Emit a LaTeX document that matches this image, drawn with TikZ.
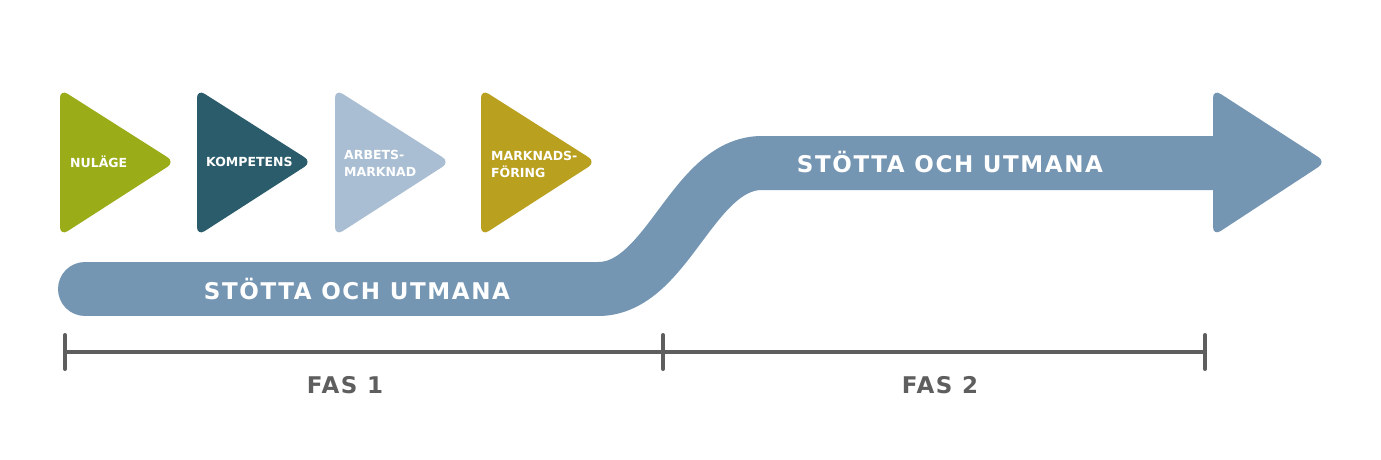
\documentclass[tikz,border=0pt]{standalone}
\usepackage{fontspec}
\setmainfont{DejaVu Sans}
\newfontfamily\bandfont[LetterSpace=7]{DejaVu Sans}
\newfontfamily\tifont{DejaVu Sans}
\begin{document}
\begin{tikzpicture}[x=1pt,y=-1pt,
  tri/.style={rounded corners=9pt},
  tritext/.style={anchor=west,text=white,font=\tifont\bfseries\fontsize{12.5}{17}\selectfont,align=left,inner sep=0pt},
  bandtext/.style={text=white,font=\bandfont\bfseries\fontsize{23}{26}\selectfont,inner sep=0pt},
  fastext/.style={text=axisgray,font=\bandfont\bfseries\fontsize{23}{26}\selectfont,inner sep=0pt},
  axis/.style={draw=axisgray,line width=4pt,line cap=round}]
\definecolor{cgreen}{HTML}{9AAC18}
\definecolor{cteal}{HTML}{2B5C6B}
\definecolor{clight}{HTML}{A9BED2}
\definecolor{cgold}{HTML}{B9A01F}
\definecolor{cblue}{HTML}{7596B3}
\definecolor{axisgray}{HTML}{5E5E5E}
\useasboundingbox[fill=white] (0,0) rectangle (1381,459);
% triangles
\fill[cgreen,tri] (60,89) -- (175,162) -- (60,236) -- cycle;
\fill[cteal,tri] (197,89) -- (312,162) -- (197,236) -- cycle;
\fill[clight,tri] (335,89) -- (450,162) -- (335,236) -- cycle;
\fill[cgold,tri] (481,89) -- (596,162) -- (481,236) -- cycle;
\node[tritext] (t1) at (70,162) {NULÄGE};
\node[tritext] (t2) at (206,162) {KOMPETENS};
\node[tritext] (t3) at (344,163) {ARBETS-\\MARKNAD};
\node[tritext] (t4) at (491,164) {MARKNADS-\\FÖRING};
% band
\coordinate (bl) at (85,289);
\coordinate (bm1) at (598,289);
\coordinate (bm2) at (762,163);
\coordinate (br) at (1225,163);
\draw[cblue,line width=54pt,line cap=round] (bl) -- (bm1);
\draw[cblue,line width=54pt] (bm1) .. controls (668,289) and (692,163) .. (bm2) -- (br);
\fill[cblue,tri] (1213,89) -- (1326,162) -- (1213,236) -- cycle;
\node[bandtext] (s1) at (357,289) {STÖTTA OCH UTMANA};
\node[bandtext] (s2) at (950,162) {STÖTTA OCH UTMANA};
% axis
\coordinate (a0) at (65,352);
\coordinate (a1) at (663,352);
\coordinate (a2) at (1205,352);
\draw[axis] (a0) -- (a2);
\draw[axis] ([yshift=-17pt]a0) -- ([yshift=17pt]a0);
\draw[axis] ([yshift=-17pt]a1) -- ([yshift=17pt]a1);
\draw[axis] ([yshift=-17pt]a2) -- ([yshift=17pt]a2);
\node[fastext] (f1) at (345,385) {FAS 1};
\node[fastext] (f2) at (940,385) {FAS 2};
\end{tikzpicture}
\end{document}
